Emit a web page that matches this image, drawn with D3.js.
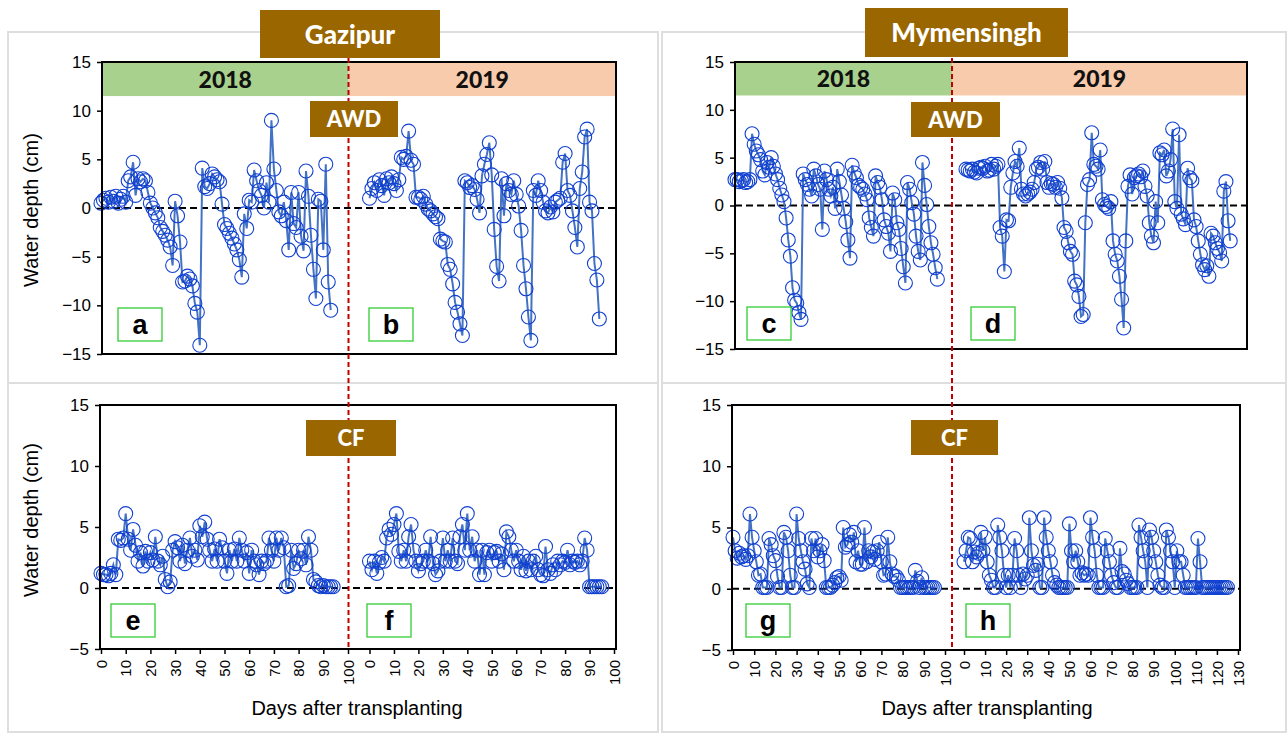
<!DOCTYPE html>
<html>
<head>
<meta charset="utf-8">
<script src="https://cdn.jsdelivr.net/npm/d3@7/dist/d3.min.js"></script>
<style>
body { margin: 0; background: #fff; }
svg text { font-family: "Liberation Sans", Arial, sans-serif; }
</style>
</head>
<body>
<svg id="chart" width="1288" height="733"></svg>
<script>
// water depth (cm), one value per day after transplanting
var gazipurAwd2018 = [0.5, 0.8, 1.0, 0.6, 1.1, 0.7, 1.2, 0.5, 0.9, 1.2, 0.6, 2.8, 3.2, 4.7, 1.3, 3.0, 2.7, 3.0, 2.8, 1.6,
    0.5, 0.0, -0.5, -1.0, -2.0, -2.4, -2.8, -3.3, -4.0, -5.9, 0.7, -0.8, -3.5, -7.6, -7.5, -7.0, -7.3, -8.0, -9.8, -10.7,
    -14.1, 4.1, 2.2, 2.0, 2.5, 3.5, 3.2, 2.9, 2.7, 0.4, -1.7, -2.1, -2.6, -3.1, -3.7, -4.3, -5.3, -7.1, -0.6, -2.1,
    0.8, 0.6, 3.9, 2.8, 1.8, 1.3, 0.0, 2.6, 0.6, 9.0, 4.0, 1.8, -0.4, -0.8, 0.6, -1.3, -4.3, 1.6, -1.6, -2.0,
    1.6, -2.9, -4.4, 3.8, 1.2, -2.8, -6.3, -9.3, 0.9, 0.7, -4.3, 4.5, -7.6, -10.5];
var gazipurAwd2019 = [1.0, 2.0, 2.6, 1.8, 2.9, 2.3, 1.3, 3.0, 2.6, 3.2, 2.5, 1.8, 2.9, 5.2, 5.0, 5.3, 7.9, 4.9, 4.5, 1.1,
    1.1, 0.9, 1.2, 0.4, -0.1, -0.3, -0.6, -0.9, -1.1, -3.2, -3.4, -3.5, -5.8, -6.3, -7.8, -9.7, -10.7, -11.9, -13.1, 2.8,
    2.6, 2.1, 2.3, 1.9, 0.9, -0.5, 3.3, 4.5, 5.5, 6.7, 3.4, -2.2, -6.0, -7.5, 3.0, -0.8, 2.5, 1.8, 1.4, 2.8,
    1.4, 0.2, -2.3, -5.9, -8.3, -11.2, -13.6, 1.8, 1.3, 2.8, 1.8, 0.6, -0.3, -0.5, 0.1, -0.4, 0.6, 0.8, 1.0, 4.7,
    5.6, 1.8, 1.3, -0.3, -2.0, -4.0, 2.0, 3.7, 7.3, 8.1, 0.6, -0.3, -5.7, -7.4, -11.4];
var mymensinghAwd2018 = [2.7, 2.7, 2.5, 2.6, 2.7, 2.4, 2.5, 2.7, 7.5, 6.4, 5.7, 5.3, 4.8, 3.6, 3.2, 4.5, 4.0, 5.0, 4.1, 3.3,
    2.7, 1.8, 1.1, 0.4, -1.3, -3.6, -5.3, -8.6, -9.9, -10.2, -11.2, -11.9, 3.3, 2.7, 2.2, 1.7, 1.0, 3.8, 3.1, 2.2,
    1.7, -2.5, 3.6, 2.7, 1.7, 1.0, 1.9, -0.3, 3.8, 2.5, 1.1, -0.3, -1.7, -3.6, -5.5, 4.2, 3.4, 2.9, 2.1, 1.9,
    1.7, 1.2, 0.6, -1.3, -2.3, -3.2, 3.1, 2.4, 1.9, 0.6, -1.5, -2.2, -2.9, -4.8, 1.3, 0.6, -1.8, -2.5, -4.5, -6.4,
    -8.1, 2.4, 1.7, 0.3, -0.9, -3.2, -4.8, -5.7, 4.5, 2.1, 0.1, -2.2, -3.9, -5.1, -6.5, -7.7];
var mymensinghAwd2019 = [3.8, 3.7, 3.6, 3.8, 3.5, 3.4, 3.9, 4.0, 3.9, 4.1, 3.6, 3.7, 4.3, 3.8, 4.1, 4.3, -2.3, -3.2, -6.9, -1.5,
    -1.6, 1.9, 3.4, 4.6, 4.1, 6.0, 1.7, 1.2, 1.0, 1.2, 1.4, 1.7, 2.4, 3.8, 4.0, 4.5, 3.8, 4.6, 2.4, 1.9,
    2.3, 2.2, 1.9, 2.4, 1.8, 0.8, -2.3, -2.7, -3.9, -4.8, -5.1, -7.9, -8.3, -9.5, -11.6, -11.4, -1.8, 2.2, 2.7, 7.6,
    4.3, 4.1, 3.8, 5.8, 0.6, 0.1, -0.1, -0.3, 0.4, -3.7, -5.1, -5.8, -7.4, -9.8, -12.8, -3.7, 2.0, 3.2, 1.2, 2.9,
    3.1, 3.3, 3.0, 3.6, 2.0, 1.0, -1.8, -3.2, -3.9, 0.4, -1.8, 5.5, 5.3, 5.8, 3.1, 3.6, 4.8, 8.0, 0.4, -0.3,
    7.4, -0.9, -1.4, -2.0, 3.9, 2.9, 2.6, -1.5, -2.2, -3.7, -5.1, -6.2, -6.7, -6.3, -7.4, -2.9, -3.2, -3.9, -4.5, -4.9,
    -5.8, 1.5, 2.5, -1.6, -3.7];
var gazipurCf2018 = [1.2, 1.1, 1.1, 1.0, 1.2, 1.9, 1.1, 4.0, 3.9, 4.1, 6.1, 4.0, 3.1, 4.8, 3.5, 2.2, 2.9, 1.8, 3.0, 2.2,
    2.9, 2.3, 4.2, 2.2, 1.9, 2.6, 0.7, 0.1, 0.5, 3.1, 3.8, 3.3, 2.2, 3.5, 2.0, 3.1, 4.1, 2.6, 3.1, 2.3,
    5.1, 4.2, 5.4, 4.0, 3.1, 2.2, 3.2, 2.2, 4.0, 3.3, 2.2, 1.2, 3.1, 2.2, 3.2, 2.2, 4.1, 3.1, 2.2, 2.9,
    1.2, 3.1, 2.2, 1.9, 1.1, 2.2, 2.0, 2.2, 4.1, 3.1, 2.2, 4.1, 3.1, 4.1, 3.3, 0.1, 0.2, 3.1, 1.6, 2.0,
    3.1, 2.4, 3.1, 1.9, 4.2, 3.1, 0.7, 0.5, 0.2, 0.1, 0.2, 0.1, 0.1, 0.1, 0.1];
var gazipurCf2019 = [2.2, 1.5, 2.2, 1.2, 2.1, 2.5, 2.2, 4.1, 4.8, 4.4, 5.2, 6.1, 3.0, 2.2, 3.1, 2.2, 4.2, 5.2, 3.1, 2.2,
    1.4, 2.0, 2.2, 3.1, 2.2, 4.2, 2.0, 1.1, 1.4, 2.2, 4.1, 2.2, 3.1, 2.2, 4.1, 2.2, 2.0, 4.2, 5.2, 3.1,
    6.1, 3.1, 4.2, 2.2, 3.1, 1.1, 3.1, 1.1, 2.9, 3.1, 2.2, 2.9, 3.0, 2.2, 2.8, 1.5, 4.6, 4.2, 3.1, 2.2,
    3.1, 2.2, 1.5, 2.6, 1.4, 2.2, 1.5, 2.2, 2.6, 1.5, 1.1, 1.0, 3.4, 1.5, 1.2, 1.9, 1.5, 2.2, 1.9, 2.2,
    2.1, 3.1, 1.9, 2.2, 2.1, 2.2, 1.9, 2.2, 4.1, 3.1, 0.1, 0.1, 0.1, 0.1, 0.1, 0.1];
var mymensinghCf2018 = [4.2, 3.1, 2.5, 2.9, 2.6, 2.7, 2.4, 2.7, 6.1, 4.2, 3.1, 2.2, 1.1, 1.2, 0.1, 0.1, 0.1, 4.1, 3.6, 2.7,
    2.3, 1.0, 0.1, 0.1, 4.6, 4.2, 3.1, 1.1, 0.1, 0.1, 6.1, 4.1, 3.1, 2.2, 1.6, 0.4, 0.1, 4.1, 3.1, 4.1,
    2.6, 3.1, 3.6, 2.3, 0.1, 0.1, 0.1, 0.3, 0.5, 0.9, 1.0, 0.7, 5.0, 3.4, 3.6, 4.4, 3.8, 4.6, 2.2, 3.1,
    2.0, 2.0, 5.0, 2.2, 3.1, 2.6, 3.0, 2.4, 3.1, 3.8, 2.2, 1.1, 1.2, 4.2, 2.2, 1.2, 1.0, 1.0, 0.7, 0.1,
    0.1, 0.1, 0.1, 0.1, 0.1, 0.1, 1.5, 0.6, 0.1, 0.9, 0.1, 0.1, 0.1, 0.1, 0.1, 0.1];
var mymensinghCf2019 = [2.2, 3.1, 4.2, 4.1, 2.2, 3.0, 2.6, 2.9, 4.6, 3.1, 4.2, 2.2, 1.1, 0.7, 0.1, 0.1, 5.2, 4.2, 3.1, 1.1,
    0.1, 1.1, 0.1, 1.1, 4.1, 3.1, 1.1, 0.1, 1.2, 0.8, 1.1, 5.8, 3.1, 1.9, 1.5, 2.0, 0.1, 0.1, 5.8, 4.2,
    3.1, 2.2, 1.1, 0.5, 0.3, 0.1, 0.1, 0.1, 0.1, 0.1, 5.3, 3.1, 2.2, 3.1, 2.2, 1.1, 1.3, 1.1, 1.2, 1.1,
    5.8, 4.2, 3.1, 1.1, 0.1, 0.1, 0.1, 4.1, 3.1, 2.2, 1.1, 0.5, 0.1, 0.1, 3.3, 1.4, 1.2, 0.7, 0.4, 0.1,
    0.1, 0.1, 0.1, 5.2, 4.2, 3.1, 2.2, 0.1, 4.8, 4.2, 3.1, 2.2, 1.1, 0.3, 0.1, 0.1, 4.8, 4.2, 3.1, 2.2,
    0.1, 3.1, 2.2, 2.2, 1.1, 0.1, 0.1, 0.1, 0.1, 0.1, 0.1, 4.1, 2.2, 0.1, 0.1, 0.1, 0.1, 0.1, 0.1, 0.1,
    0.1, 0.1, 0.1, 0.1, 0.1, 0.1];

var yTicksAwd = [-15, -10, -5, 0, 5, 10, 15];
var yTicksCf = [-5, 0, 5, 10, 15];
var xTicks100 = [0, 10, 20, 30, 40, 50, 60, 70, 80, 90, 100];
var xTicks130 = [0, 10, 20, 30, 40, 50, 60, 70, 80, 90, 100, 110, 120, 130];

var svg = d3.select("#chart");
var brown = "#996600";
var boldFont = "Lato, 'Open Sans', sans-serif";

// outer frames of the four quadrants
var frames = [[8, 32, 650, 351], [662, 32, 624, 351], [8, 383, 650, 349], [662, 383, 624, 349]];
svg.selectAll("rect.frame").data(frames).enter().append("rect")
    .attr("class", "frame")
    .attr("x", function(d) { return d[0]; }).attr("y", function(d) { return d[1]; })
    .attr("width", function(d) { return d[2]; }).attr("height", function(d) { return d[3]; })
    .attr("fill", "none").attr("stroke", "#dedede").attr("stroke-width", 2);

var panels = [
    {left: 102, right: 616, top: 62, bottom: 354, yDomain: [-15, 15], yTicks: yTicksAwd,
     r18: [101, 348], r19: [369.5, 614], max19: 100, s18: gazipurAwd2018, s19: gazipurAwd2019,
     redX: 348.5, bands: true, xAxis: false, letters: ["a", "b"], letterX: [118, 369], letterY: 308,
     tag: "AWD", tagBox: [310, 101, 88, 36]},
    {left: 735, right: 1247, top: 62, bottom: 349, yDomain: [-15, 15], yTicks: yTicksAwd,
     r18: [735, 948], r19: [966, 1243], max19: 130, s18: mymensinghAwd2018, s19: mymensinghAwd2019,
     redX: 952, bands: true, xAxis: false, letters: ["c", "d"], letterX: [747, 971], letterY: 307,
     tag: "AWD", tagBox: [911, 102, 89, 35]},
    {left: 100, right: 616, top: 405, bottom: 649, yDomain: [-5, 15], yTicks: yTicksCf,
     r18: [101, 348], r19: [369.5, 614], max19: 100, s18: gazipurCf2018, s19: gazipurCf2019,
     redX: 348.5, bands: false, xAxis: true, letters: ["e", "f"], letterX: [111, 367], letterY: 604,
     tag: "CF", tagBox: [306, 420, 90, 36]},
    {left: 732, right: 1240, top: 405, bottom: 650, yDomain: [-5, 15], yTicks: yTicksCf,
     r18: [733, 945], r19: [964, 1238], max19: 130, s18: mymensinghCf2018, s19: mymensinghCf2019,
     redX: 952, bands: false, xAxis: true, letters: ["g", "h"], letterX: [746, 966], letterY: 604,
     tag: "CF", tagBox: [911, 420, 87, 35]}
];

panels.forEach(drawPanel);

// red dashed separators between the two seasons
[348.5, 952].forEach(function(x) {
    svg.append("line")
        .attr("x1", x).attr("x2", x).attr("y1", 58).attr("y2", 649)
        .attr("stroke", "#c00000").attr("stroke-width", 2).attr("stroke-dasharray", "5,3");
});

// treatment tags
panels.forEach(function(p) {
    var b = p.tagBox;
    svg.append("rect").attr("x", b[0]).attr("y", b[1]).attr("width", b[2]).attr("height", b[3]).attr("fill", brown);
    svg.append("text").text(p.tag)
        .attr("x", b[0] + b[2] / 2).attr("y", b[1] + b[3] / 2 + 8)
        .attr("text-anchor", "middle").attr("fill", "#fff")
        .style("font-family", boldFont).style("font-weight", "900").style("font-size", "22px");
});

// site titles
var titles = [["Gazipur", 260, 10, 180, 48], ["Mymensingh", 865, 8, 203, 49]];
titles.forEach(function(t) {
    svg.append("rect").attr("x", t[1]).attr("y", t[2]).attr("width", t[3]).attr("height", t[4]).attr("fill", brown);
    svg.append("text").text(t[0])
        .attr("x", t[1] + t[3] / 2).attr("y", t[2] + t[4] / 2 + 9.5)
        .attr("text-anchor", "middle").attr("fill", "#fff")
        .style("font-family", boldFont).style("font-weight", "900").style("font-size", "26px");
});

// axis titles
[210, 520].forEach(function(cy) {
    svg.append("text").text("Water depth (cm)")
        .attr("transform", "translate(38," + cy + ") rotate(-90)")
        .attr("text-anchor", "middle").style("font-size", "20px").attr("fill", "#000");
});
[357, 987].forEach(function(cx) {
    svg.append("text").text("Days after transplanting")
        .attr("x", cx).attr("y", 715)
        .attr("text-anchor", "middle").style("font-size", "20px").attr("fill", "#000");
});

function drawPanel(p) {
    var g = svg.append("g");
    var y = d3.scaleLinear().domain(p.yDomain).range([p.bottom, p.top]);
    var x18 = d3.scaleLinear().domain([0, 100]).range(p.r18);
    var x19 = d3.scaleLinear().domain([0, p.max19]).range(p.r19);

    // year bands on top of the AWD plots
    if (p.bands) {
        g.append("rect").attr("x", p.left + 1).attr("y", y(15)).attr("width", p.redX - p.left - 1)
            .attr("height", y(11.5) - y(15)).attr("fill", "#a9d18e");
        g.append("rect").attr("x", p.redX).attr("y", y(15)).attr("width", p.right - p.redX - 1)
            .attr("height", y(11.5) - y(15)).attr("fill", "#f8cbad");
        g.append("text").text("2018").attr("x", (p.left + p.redX) / 2).attr("y", y(13.25) + 8.5)
            .attr("text-anchor", "middle").attr("fill", "#111")
            .style("font-family", boldFont).style("font-weight", "900").style("font-size", "23px");
        g.append("text").text("2019").attr("x", (p.redX + p.right) / 2).attr("y", y(13.25) + 8.5)
            .attr("text-anchor", "middle").attr("fill", "#111")
            .style("font-family", boldFont).style("font-weight", "900").style("font-size", "23px");
    }

    // zero line
    g.append("line").attr("x1", p.left).attr("x2", p.right).attr("y1", y(0)).attr("y2", y(0))
        .attr("stroke", "#000").attr("stroke-width", 2.2).attr("stroke-dasharray", "7,4");

    drawSeries(g, p.s18, x18, y);
    drawSeries(g, p.s19, x19, y);

    // y axis
    var ya = g.append("g").attr("transform", "translate(" + p.left + ",0)")
        .call(d3.axisLeft(y).tickValues(p.yTicks).tickSize(5).tickPadding(6).tickSizeOuter(0));
    ya.select(".domain").remove();
    ya.selectAll("line").attr("stroke", "#000").attr("stroke-width", 1.5);
    ya.selectAll("text").style("font-size", "17px").attr("fill", "#000").style("font-family", "'Liberation Sans', Arial, sans-serif");

    // x axes (bottom plots only)
    if (p.xAxis) {
        [[x18, xTicks100], [x19, p.max19 == 130 ? xTicks130 : xTicks100]].forEach(function(a) {
            var xa = g.append("g").attr("transform", "translate(0," + p.bottom + ")")
                .call(d3.axisBottom(a[0]).tickValues(a[1]).tickSize(5).tickSizeOuter(0));
            xa.select(".domain").remove();
            xa.selectAll("line").attr("stroke", "#000").attr("stroke-width", 1.5);
            xa.selectAll("text")
                .attr("transform", "rotate(-90)")
                .attr("text-anchor", "end")
                .attr("x", -11).attr("y", 0).attr("dy", "0.35em")
                .style("font-size", "15px").attr("fill", "#000")
                .style("font-family", "'Liberation Sans', Arial, sans-serif");
        });
    }

    // plot border
    g.append("rect").attr("x", p.left).attr("y", p.top)
        .attr("width", p.right - p.left).attr("height", p.bottom - p.top)
        .attr("fill", "none").attr("stroke", "#000").attr("stroke-width", 2);

    // panel letters
    p.letters.forEach(function(l, i) {
        g.append("rect").attr("x", p.letterX[i]).attr("y", p.letterY).attr("width", 44).attr("height", 33)
            .attr("fill", "#fff").attr("stroke", "#33cc33").attr("stroke-width", 1.3);
        g.append("text").text(l).attr("x", p.letterX[i] + 22).attr("y", p.letterY + 26)
            .attr("text-anchor", "middle").style("font-size", "27px").style("font-weight", "bold").attr("fill", "#000");
    });
}

function drawSeries(g, values, x, y) {
    var line = d3.line()
        .x(function(d, i) { return x(i); })
        .y(function(d) { return y(d); });
    g.append("path").datum(values).attr("d", line)
        .attr("fill", "none").attr("stroke", "#4472c4").attr("stroke-width", 2);
    g.selectAll(null).data(values).enter().append("circle")
        .attr("cx", function(d, i) { return x(i); })
        .attr("cy", function(d) { return y(d); })
        .attr("r", 7)
        .attr("fill", "none").attr("stroke", "#1040d0").attr("stroke-width", 1.1);
}
</script>
</body>
</html>
